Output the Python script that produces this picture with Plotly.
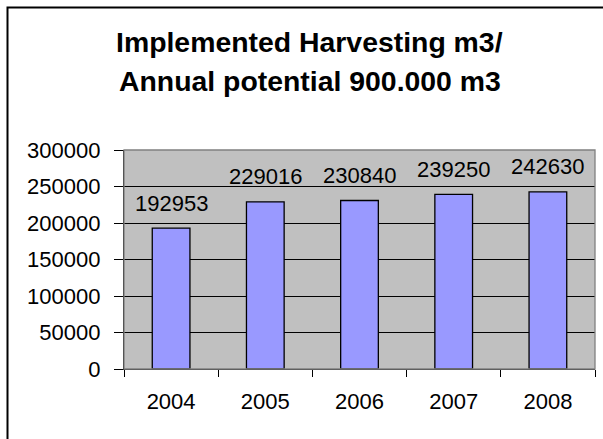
import plotly.graph_objects as go

years = ["2004", "2005", "2006", "2007", "2008"]
harvest = [192953, 229016, 230840, 239250, 242630]
y_ticks = [0, 50000, 100000, 150000, 200000, 250000, 300000]
title_lines = ["Implemented Harvesting m3/", "Annual potential 900.000 m3"]

W, H = 603, 439
L, R, T, B = 124, 8, 150, 70
pw, ph = W - L - R, H - T - B

def px_x(p):
    return (p - L) / pw

def px_y(p):
    return (H - B - p) / ph

FONT = "Liberation Sans, Arial, sans-serif"

fig = go.Figure()
fig.add_trace(go.Bar(
    x=years, y=harvest, width=0.4,
    marker=dict(color="#9999FF", line=dict(color="black", width=1.3)),
    hoverinfo="x+y",
))

for i, v in enumerate(harvest):
    fig.add_annotation(x=i, y=v, text=str(v), showarrow=False,
                       yanchor="middle", yshift=25,
                       font=dict(family=FONT, size=22, color="black"))

for i, line in enumerate(title_lines):
    fig.add_annotation(xref="paper", yref="paper", x=px_x(309.5),
                       y=px_y(42 + 39.5 * i), text=f"<b>{line}</b>",
                       showarrow=False, xanchor="center", yanchor="middle",
                       font=dict(family=FONT, size=28.4, color="black"))

# outer chart border (extends beyond the visible frame on right/bottom)
fig.add_shape(type="rect", xref="paper", yref="paper",
              x0=px_x(7.5), x1=px_x(615), y0=px_y(450), y1=px_y(7.5),
              line=dict(color="black", width=2), layer="above")
# plot area border
fig.add_shape(type="rect", xref="paper", yref="paper", x0=0, x1=1, y0=0, y1=1,
              line=dict(color="#808080", width=1.3), layer="above")

fig.update_layout(
    width=W, height=H,
    margin=dict(l=L, r=R, t=T, b=B, pad=0),
    paper_bgcolor="white", plot_bgcolor="#C0C0C0",
    showlegend=False,
    font=dict(family=FONT, size=22, color="black"),
)
fig.update_xaxes(
    type="category", range=[-0.5, len(years) - 0.5],
    tickson="boundaries", ticks="outside", ticklen=7,
    tickcolor="black", tickwidth=1.3, showline=True, linecolor="black",
    linewidth=1.3, showgrid=False, ticklabelstandoff=12, tickangle=0,
    tickfont=dict(family=FONT, size=22, color="black"),
)
fig.update_yaxes(
    range=[0, 300000], tickvals=y_ticks, ticktext=[str(t) for t in y_ticks],
    ticks="outside", ticklen=9, tickcolor="black", tickwidth=1.3,
    showline=True, linecolor="black", linewidth=1.3,
    showgrid=True, gridcolor="black", gridwidth=1, zeroline=False,
    ticklabelstandoff=9,
    tickfont=dict(family=FONT, size=22, color="black"),
)

fig.write_html("out.html",
               config={"displayModeBar": False},
               post_script="document.body.style.margin='0';document.body.style.overflow='hidden';")
